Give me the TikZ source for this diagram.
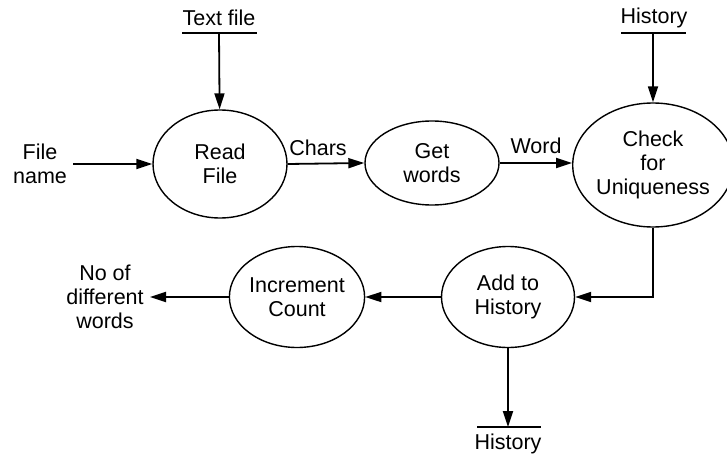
\documentclass[tikz,border=0pt]{standalone}
\usepackage{fontspec}
\setmainfont{Liberation Sans}
\usetikzlibrary{shapes.geometric,arrows.meta}
\begin{document}
\begin{tikzpicture}[x=1pt,y=-1pt,
  proc/.style={ellipse,draw,line width=1.4pt,inner sep=0pt,align=center},
  lbl/.style={inner sep=0pt,align=center},
  flow/.style={line width=1.8pt,-{Triangle[length=16pt,width=10pt]}},
  store/.style={line width=1.3pt},
  every node/.style={font=\fontsize{21.5}{24}\selectfont}]
\useasboundingbox (0,0) rectangle (727,457);
% processes
\node[proc,minimum width=134pt,minimum height=108pt] (rf) at (220,164) {Read\\File};
\node[proc,minimum width=134pt,minimum height=84pt] (gw) at (432,163) {Get\\words};
\node[proc,minimum width=145pt,minimum height=124pt] (cu) at (653,165) {Check\\for\\Uniqueness};
\node[proc,minimum width=133pt,minimum height=101pt] (ah) at (508,297) {Add to\\History};
\node[proc,minimum width=132pt,minimum height=101pt] (ic) at (297,297) {Increment\\Count};
% stores and externals
\node[lbl] (tf) at (219,18) {Text file};
\coordinate (tfl) at (219,33);
\draw[store] (182,33) -- (257,33);
\node[lbl] (ht) at (654,18) {History};
\coordinate (htl) at (653,33);
\draw[store] (621,33) -- (686,33);
\node[lbl] (hb) at (508,444) {History};
\coordinate (hbl) at (508,427);
\draw[store] (477,427) -- (541,427);
\node[lbl] (fn) at (40,164) {File\\name};
\coordinate (fne) at (73,164);
\node[lbl] (nd) at (105,297) {No of\\different\\words};
\coordinate (ndw) at (150,297);
% labels
\node[lbl] (chars) at (318,148) {Chars};
\node[lbl] (word) at (536,146) {Word};
% flows
\draw[flow] (tfl) -- (rf);
\draw[flow] (fne) -- (rf);
\draw[flow] (rf.east) -- (gw.west);
\draw[flow] (gw.east) -- (cu.west |- gw.east);
\draw[flow] (htl) -- (cu);
\draw[flow] (cu.south) |- (ah.east);
\draw[flow] (ah.west) -- (ic.east);
\draw[flow] (ic.west) -- (ndw);
\draw[flow] (ah.south) -- (hbl);
\end{tikzpicture}
\end{document}
